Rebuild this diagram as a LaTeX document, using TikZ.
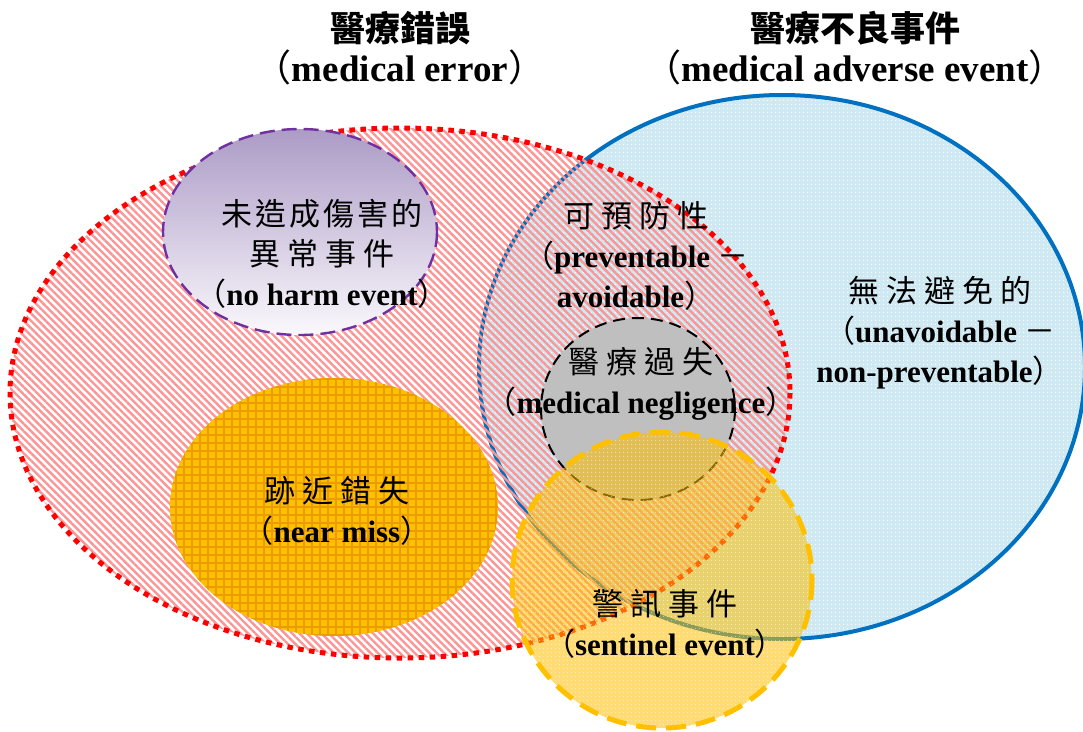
\documentclass[tikz,border=0pt]{standalone}
\usepackage{fontspec}
\usetikzlibrary{patterns.meta}
\setmainfont{Liberation Serif}
\newfontfamily\cjk{Noto Sans CJK TC}
\newfontfamily\cjkwide{Noto Sans CJK TC}[LetterSpace=23]
\newfontfamily\cjkmid{Noto Sans CJK TC}[LetterSpace=10]
\newcommand\LPar{{\mdseries\cjk （}}
\newcommand\RPar{{\mdseries\cjk ）}}
\newcommand\FDash{{\mdseries\cjk －}}
\newcommand\zhA[1]{{\mdseries\cjkwide #1}}
\newcommand\zhB[1]{{\mdseries\cjkmid #1}}
\definecolor{blueline}{RGB}{0,112,192}
\definecolor{bluefill}{RGB}{206,233,242}
\definecolor{redstripe}{RGB}{252,150,150}
\definecolor{reddot}{RGB}{255,0,0}
\definecolor{purpleline}{RGB}{112,48,160}
\definecolor{purpletop}{RGB}{172,155,198}
\definecolor{purplebot}{RGB}{250,248,252}
\definecolor{orangefill}{RGB}{255,192,0}
\definecolor{orangehatch}{RGB}{236,155,0}
\definecolor{grayfill}{RGB}{191,191,191}
\definecolor{yel}{RGB}{255,192,0}
\begin{document}
\begin{tikzpicture}[x=1pt,y=-1pt,
  lbl/.style={align=center, inner sep=0pt, font=\fontsize{31}{40}\selectfont\bfseries},
  ttl/.style={align=center, inner sep=0pt, font=\fontsize{37}{40}\selectfont\bfseries}]
\useasboundingbox[fill=white] (0,0) rectangle (1083,731);
% medical adverse event (blue)
\path[fill=bluefill] (782,367) ellipse [x radius=303, y radius=272];
\path[pattern={Dots[radius=0.8pt,distance=4pt]}, pattern color=white] (782,367) ellipse [x radius=303, y radius=272];
\draw[blueline, line width=4pt] (782,367) ellipse [x radius=303, y radius=272];
% medical error (red)
\path[pattern={Lines[angle=-45,distance=5.2pt,line width=2.4pt]}, pattern color=redstripe] (400,393) ellipse [x radius=390, y radius=265];
\draw[reddot, line width=5pt, dash pattern=on 5.5pt off 5.5pt] (400,393) ellipse [x radius=390, y radius=265];
% no harm event
\draw[purpleline, line width=2.4pt, dash pattern=on 15pt off 7pt, top color=purpletop, bottom color=purplebot] (300,232) ellipse [x radius=137, y radius=103];
% near miss
\path[fill=orangefill] (334,507) ellipse [x radius=164, y radius=129];
\path[pattern={Hatch[distance=8pt,line width=1.6pt]}, pattern color=orangehatch] (334,507) ellipse [x radius=164, y radius=129];
% negligence
\draw[black, line width=2pt, dash pattern=on 12pt off 7pt, fill=grayfill] (638,409) ellipse [x radius=97, y radius=91];
% sentinel event
\path[fill=yel, fill opacity=0.55] (662,580) ellipse [x radius=150, y radius=148];
\path[pattern={Dots[radius=0.8pt,distance=4pt]}, pattern color=white, fill opacity=0.5] (662,580) ellipse [x radius=150, y radius=148];
\draw[yel, line width=5pt, dash pattern=on 20pt off 10pt] (662,580) ellipse [x radius=150, y radius=148];
% titles
\node[ttl] (terror) at (400,48) {{\cjk\fontsize{35}{40}\selectfont 醫療錯誤}\\\LPar medical error\RPar};
\node[ttl] (tadverse) at (855,48) {{\cjk\fontsize{35}{40}\selectfont 醫療不良事件}\\\LPar medical adverse event\RPar};
% labels
\node[lbl] (noharm) at (322,254) {\zhB{未造成傷害的}\\\zhA{異常事件}\\\LPar no harm event\RPar};
\node[lbl] (prevent) at (636,256) {\zhA{可預防性}\\\LPar preventable\ \FDash\\avoidable\RPar};
\node[lbl] (neglig) at (641,384) {\zhA{醫療過失}\\\LPar medical negligence\RPar};
\node[lbl] (unavoid) at (940,333) {\zhA{無法避免的}\\\LPar unavoidable\ \FDash\\non-preventable\RPar};
\node[lbl] (nearmiss) at (337,511) {\zhA{跡近錯失}\\\LPar near miss\RPar};
\node[lbl] (sentinel) at (665,624) {\zhA{警訊事件}\\\LPar sentinel event\RPar};
\end{tikzpicture}
\end{document}
